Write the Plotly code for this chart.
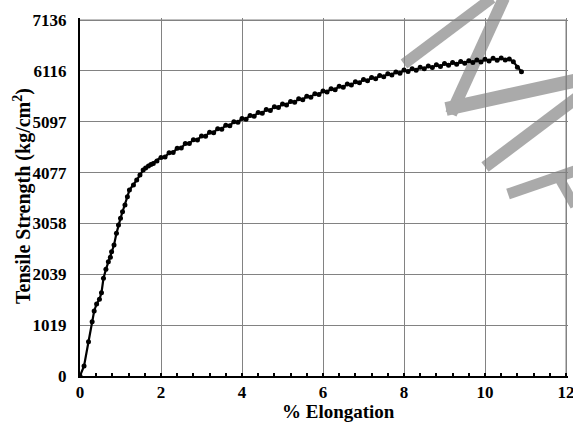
import plotly.graph_objects as go

# ---- data ----
elongation = [0, 0.1, 0.21, 0.30, 0.35, 0.41, 0.48, 0.53, 0.58, 0.64, 0.70, 0.75, 0.78, 0.84, 0.90,
              0.95, 1.0, 1.05, 1.11, 1.17, 1.22, 1.32, 1.40, 1.48, 1.56, 1.62, 1.69, 1.75, 1.81, 1.9,
              2.0, 2.1, 2.2, 2.3, 2.4, 2.5, 2.6, 2.7, 2.8, 2.9,
              3.0, 3.1, 3.2, 3.3, 3.4, 3.5, 3.6, 3.7, 3.8, 3.9,
              4.0, 4.1, 4.2, 4.3, 4.4, 4.5, 4.6, 4.7, 4.8, 4.9,
              5.0, 5.1, 5.2, 5.3, 5.4, 5.5, 5.6, 5.7, 5.8, 5.9,
              6.0, 6.1, 6.2, 6.3, 6.4, 6.5, 6.6, 6.7, 6.8, 6.9,
              7.0, 7.1, 7.2, 7.3, 7.4, 7.5, 7.6, 7.7, 7.8, 7.9,
              8.0, 8.1, 8.2, 8.3, 8.4, 8.5, 8.6, 8.7, 8.8, 8.9,
              9.0, 9.1, 9.2, 9.3, 9.4, 9.5, 9.6, 9.7, 9.8, 9.9,
              10.0, 10.1, 10.2, 10.3, 10.4, 10.5, 10.6, 10.7, 10.8, 10.9]
strength = [0, 200, 687, 1088, 1303, 1443, 1537, 1670, 1958, 2138, 2290, 2378, 2491, 2625, 2859,
            3026, 3160, 3293, 3427, 3594, 3727, 3827, 3928, 4028, 4128, 4170, 4208, 4240, 4262, 4310,
            4382, 4388, 4477, 4478, 4567, 4568, 4662, 4658, 4737, 4733,
            4812, 4806, 4886, 4878, 4957, 4948, 5027, 5018, 5097, 5086,
            5162, 5148, 5222, 5208, 5282, 5268, 5340, 5324, 5396, 5380,
            5452, 5434, 5504, 5486, 5556, 5538, 5608, 5590, 5660, 5642,
            5712, 5692, 5760, 5740, 5808, 5788, 5854, 5832, 5898, 5876,
            5942, 5918, 5982, 5958, 6022, 5998, 6060, 6034, 6096, 6070,
            6132, 6102, 6160, 6130, 6188, 6158, 6214, 6182, 6238, 6206,
            6262, 6228, 6282, 6248, 6302, 6268, 6319, 6282, 6333, 6296,
            6347, 6313, 6367, 6330, 6374, 6335, 6352, 6300, 6190, 6100]

x_ticks = [0, 2, 4, 6, 8, 10, 12]
y_ticks = [0, 1019, 2039, 3058, 4077, 5097, 6116, 7136]

W, H = 573, 423
L, R, T, B = 80, 5, 18, 47
PW, PH = W - L - R, H - T - B

def px(xp, yp):
    return (xp - L) / PW, (H - B - yp) / PH

serif = "Liberation Serif"
grid = "rgb(130,130,130)"

# axis ranges padded by ~2 px so the frame lines at 12 and 7136 sit inside the plot area
x_max = x_ticks[-1] * PW / (PW - 2)
y_max = y_ticks[-1] * PH / (PH - 2)

fig = go.Figure()
# right and top frame lines (grid lines at the last ticks)
fig.add_trace(go.Scatter(
    x=[0, x_ticks[-1], x_ticks[-1]], y=[y_ticks[-1], y_ticks[-1], 0], mode="lines",
    line=dict(color=grid, width=1), showlegend=False, hoverinfo="skip"))
fig.add_trace(go.Scatter(
    x=elongation, y=strength, mode="lines+markers",
    line=dict(color="black", width=2.2),
    marker=dict(color="black", size=5),
    showlegend=False, hoverinfo="skip"))

# watermark strokes (decoration)
strokes = [
    ((404, 64), (492, -2), 11),
    ((504, -2), (451, 114), 12),
    ((446, 109), (578, 80), 14),
    ((578, 97), (485, 167), 12),
    ((508, 194), (575, 171), 11),
    ((558, 176), (575, 206), 10),
]
for (a, b, w) in strokes:
    x0, y0 = px(*a)
    x1, y1 = px(*b)
    fig.add_shape(type="line", xref="paper", yref="paper", x0=x0, y0=y0, x1=x1, y1=y1,
                  line=dict(color="rgb(170,170,170)", width=w), layer="below")

ax_font = dict(family=serif, size=17, color="black", weight="bold")
fig.update_xaxes(range=[0, x_max], tickvals=x_ticks, ticktext=[str(v) for v in x_ticks],
                 showgrid=True, gridcolor=grid, gridwidth=1,
                 showline=True, linecolor="black", linewidth=2, zeroline=False,
                 ticks="inside", ticklen=3, tickcolor="black",
                 minor=dict(dtick=0.4, tick0=0, ticks="inside", ticklen=3, tickwidth=1.5,
                            tickcolor="black", showgrid=False),
                 tickfont=ax_font, ticklabelstandoff=0, ticklabeloverflow="allow",
                 automargin=False)
fig.update_yaxes(range=[0, y_max], tickvals=y_ticks, ticktext=[str(v) for v in y_ticks],
                 showgrid=True, gridcolor=grid, gridwidth=1,
                 showline=True, linecolor="black", linewidth=2, zeroline=False,
                 ticks="", tickfont=ax_font, ticklabelstandoff=8, ticklabeloverflow="allow",
                 automargin=False)

tx, ty = px(338, 411)
fig.add_annotation(text="% Elongation", xref="paper", yref="paper", x=tx, y=ty,
                   xanchor="center", yanchor="middle",
                   showarrow=False, font=dict(family=serif, size=19, color="black", weight="bold"))
yx, yy = px(22, 196)
fig.add_annotation(text="Tensile Strength (kg/cm<sup>2</sup>)", xref="paper", yref="paper",
                   x=yx, y=yy, textangle=-90, showarrow=False, xanchor="center", yanchor="middle",
                   font=dict(family=serif, size=20, color="black", weight="bold"))

fig.update_layout(width=W, height=H, margin=dict(l=L, r=R, t=T, b=B, autoexpand=False),
                  paper_bgcolor="white", plot_bgcolor="rgba(0,0,0,0)")
fig.write_html("out.html", config={"displayModeBar": False},
               post_script="document.body.style.margin='0px';")
